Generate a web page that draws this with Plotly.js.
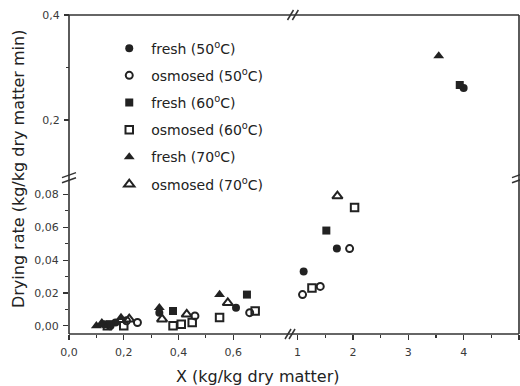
<!DOCTYPE html>
<html><head><meta charset="utf-8">
<script src="https://cdn.plot.ly/plotly-3.0.1.min.js"></script>
<style>html,body{margin:0;padding:0;background:#fff}#chart{width:520px;height:386px}</style>
</head><body><div id="chart"></div>
<script>
// Series data (X in kg/kg dry matter, drying rate in kg/kg dry matter min)
const seriesNames = ['fresh (50<sup>o</sup>C)','osmosed (50<sup>o</sup>C)','fresh (60<sup>o</sup>C)','osmosed (60<sup>o</sup>C)','fresh (70<sup>o</sup>C)','osmosed (70<sup>o</sup>C)'];
const fresh50X = [0.13, 0.17, 0.33, 0.61, 1.11, 1.71, 4.0];
const fresh50Y = [0.001, 0.002, 0.008, 0.011, 0.033, 0.047, 0.261];
const osm50X = [0.15, 0.21, 0.25, 0.46, 0.66, 1.09, 1.41, 1.94];
const osm50Y = [0.000, 0.003, 0.002, 0.006, 0.008, 0.019, 0.024, 0.047];
const fresh60X = [0.15, 0.38, 0.65, 1.52, 3.93];
const fresh60Y = [0.001, 0.009, 0.019, 0.058, 0.267];
const osm60X = [0.14, 0.20, 0.38, 0.41, 0.45, 0.55, 0.68, 1.26, 2.03];
const osm60Y = [0.000, 0.000, 0.000, 0.001, 0.002, 0.005, 0.009, 0.023, 0.072];
const fresh70X = [0.10, 0.12, 0.19, 0.33, 0.55, 3.55];
const fresh70Y = [0.000, 0.001, 0.005, 0.011, 0.019, 0.322];
const osm70X = [0.12, 0.22, 0.34, 0.43, 0.58, 1.72];
const osm70Y = [0.001, 0.004, 0.004, 0.007, 0.014, 0.079];

const seriesX = [fresh50X, osm50X, fresh60X, osm60X, fresh70X, osm70X];
const seriesY = [fresh50Y, osm50Y, fresh60Y, osm60Y, fresh70Y, osm70Y];
const symbols = ['circle','circle-open','square','square-open','triangle-up','triangle-up-open'];
const sizes = [8, 7, 8, 7.5, 9.5, 9];

const X_BREAK = 0.85, Y_BREAK = 0.092;
const dark = '#222';
const traces = [];
seriesX.forEach((xs, i) => {
  const panels = [
    {xa:'x', ya:'y', f:(x,y)=> x < X_BREAK && y < Y_BREAK},
    {xa:'x2', ya:'y', f:(x,y)=> x >= X_BREAK && y < Y_BREAK},
    {xa:'x3', ya:'y2', f:(x,y)=> x >= X_BREAK && y >= Y_BREAK}
  ];
  panels.forEach((p, k) => {
    const px = [], py = [];
    xs.forEach((x, j) => { const y = seriesY[i][j]; if (p.f(x, y)) { px.push(x); py.push(y); } });
    traces.push({
      type:'scatter', mode:'markers', x:px, y:py, xaxis:p.xa, yaxis:p.ya,
      name: seriesNames[i], legendgroup:'g'+i, showlegend: k === 0,
      marker:{symbol:symbols[i], size:sizes[i], color:dark, line:{color:dark, width: symbols[i].endsWith('open') ? 2 : 0}},
      hoverinfo:'skip'
    });
  });
});

const tickFont = {family:'DejaVu Sans', size:11, color:'#3a3a3a'};
const common = {showgrid:false, zeroline:false, showline:false, ticks:'outside', ticklen:5, tickwidth:1.2, tickcolor:'#333', tickfont:tickFont};
const xL = [0, 0.4867], xR = [0.4956, 1];
const yB = [0, 0.489], yT = [0.498, 1];

const layout = {
  width:520, height:386,
  margin:{l:69, r:1, t:15, b:52},
  paper_bgcolor:'#fff', plot_bgcolor:'#fff',
  separators:',.',
  font:{family:'DejaVu Sans', color:'#222'},
  showlegend:true,
  legend:{x:0.085, y:0.945, xanchor:'left', yanchor:'top', bgcolor:'rgba(0,0,0,0)', font:{family:'DejaVu Sans', size:14, color:'#222'}, tracegroupgap:6, itemwidth:34},
  xaxis: Object.assign({}, common, {domain:xL, range:[0,0.8], anchor:'y', tickvals:[0,0.2,0.4,0.6], tickformat:'.1f', ticklabelstandoff:3, minor:{tickvals:[0.1,0.3,0.5,0.7], ticks:'outside', ticklen:3, tickcolor:'#333'}}),
  xaxis2: Object.assign({}, common, {domain:xR, range:[0.9,5], anchor:'y', tickvals:[1,2,3,4,5], ticklabelstandoff:3, minor:{tickvals:[1.5,2.5,3.5,4.5], ticks:'outside', ticklen:3, tickcolor:'#333'}}),
  xaxis3: {domain:xR, range:[0.9,5], anchor:'y2', showgrid:false, zeroline:false, showline:false, showticklabels:false, ticks:''},
  yaxis: Object.assign({}, common, {domain:yB, range:[-0.005,0.09], anchor:'x', tickvals:[0,0.02,0.04,0.06,0.08], tickformat:'.2f', ticklabelstandoff:2, minor:{tickvals:[0.01,0.03,0.05,0.07], ticks:'outside', ticklen:3, tickcolor:'#333'}}),
  yaxis2: Object.assign({}, common, {domain:yT, range:[0.0952,0.4], anchor:'free', position:0, tickvals:[0.2,0.4], tickformat:'.1f', ticklabelstandoff:2, minor:{tickvals:[0.3], ticks:'outside', ticklen:3, tickcolor:'#333'}}),
  annotations:[
    {text:'X (kg/kg dry matter)', xref:'paper', yref:'paper', x:0.42, y:0, yanchor:'top', yshift:-31, showarrow:false, font:{family:'DejaVu Sans', size:16, color:'#222'}},
    {text:'Drying rate (kg/kg dry matter min)', xref:'paper', yref:'paper', x:0, y:0.517, xanchor:'center', xshift:-51, textangle:-90, showarrow:false, font:{family:'DejaVu Sans', size:16, color:'#222'}}
  ],
  shapes:[]
};
const lc = '#333';
// frame
layout.shapes.push({type:'line', xref:'paper', yref:'paper', x0:0, x1:1, y0:0, y1:0, line:{color:lc, width:1.6}});
layout.shapes.push({type:'line', xref:'paper', yref:'paper', x0:0, x1:1, y0:1, y1:1, line:{color:lc, width:1.6}});
layout.shapes.push({type:'line', xref:'paper', yref:'paper', x0:0, x1:0, y0:0, y1:1, line:{color:lc, width:1.6}});
layout.shapes.push({type:'line', xref:'paper', yref:'paper', x0:1, x1:1, y0:0, y1:1, line:{color:lc, width:1.6}});
// break slashes on x (bottom and top)
[[0.4867,0],[0.4956,0],[0.4922,1],[0.503,1]].forEach(([xa,ya]) => {
  layout.shapes.push({type:'line', xref:'paper', yref:'paper', xsizemode:'pixel', ysizemode:'pixel', xanchor:xa, yanchor:ya, x0:-3, x1:3, y0:-5, y1:5, line:{color:lc, width:1.5}});
});
// break slashes on y (left and right)
[[0,0.498],[0,0.482],[1,0.498],[1,0.482]].forEach(([xa,ya]) => {
  layout.shapes.push({type:'line', xref:'paper', yref:'paper', xsizemode:'pixel', ysizemode:'pixel', xanchor:xa, yanchor:ya, x0:-7, x1:7, y0:-2.5, y1:2.5, line:{color:lc, width:1.5}});
});

Plotly.newPlot('chart', traces, layout, {staticPlot:true, displayModeBar:false});
</script></body></html>
